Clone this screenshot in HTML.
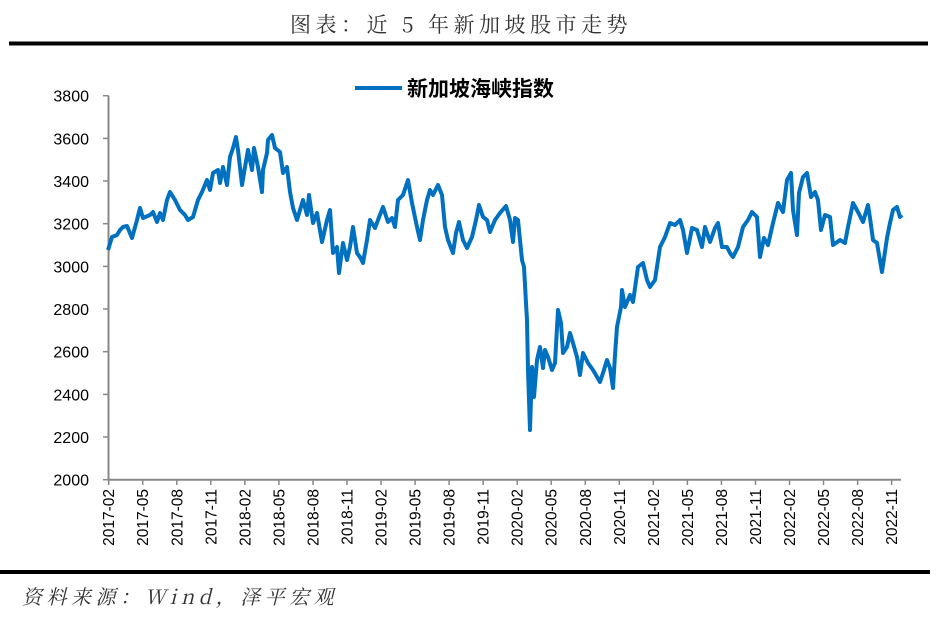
<!DOCTYPE html>
<html><head><meta charset="utf-8"><style>
body{margin:0;background:#fff;width:937px;height:622px;overflow:hidden}
svg{display:block}
</style></head><body>
<svg width="937" height="622" xmlns="http://www.w3.org/2000/svg">
<text x="290" y="32" letter-spacing="4.5" font-family="'Noto Serif CJK SC',serif" font-size="21" fill="#333">图表：近 5 年新加坡股市走势</text>
<rect x="9" y="41.5" width="919" height="4" fill="#000"/>
<rect x="0" y="570" width="930" height="4" fill="#000"/>
<text x="22" y="604" letter-spacing="4.5" font-family="'Noto Serif CJK SC',serif" font-style="italic" font-size="20" fill="#333">资料来源：Wind，泽平宏观</text>
<g stroke="#888" stroke-width="2" fill="none">
<line x1="108.5" y1="95.7" x2="108.5" y2="480"/>
<line x1="107.5" y1="479.7" x2="901" y2="479.7"/>
</g>
<g stroke="#888" stroke-width="1.5">
<line x1="103" y1="479.7" x2="108.5" y2="479.7"/><line x1="103" y1="437" x2="108.5" y2="437"/><line x1="103" y1="394.4" x2="108.5" y2="394.4"/><line x1="103" y1="351.7" x2="108.5" y2="351.7"/><line x1="103" y1="309" x2="108.5" y2="309"/><line x1="103" y1="266.4" x2="108.5" y2="266.4"/><line x1="103" y1="223.7" x2="108.5" y2="223.7"/><line x1="103" y1="181" x2="108.5" y2="181"/><line x1="103" y1="138.4" x2="108.5" y2="138.4"/><line x1="103" y1="95.7" x2="108.5" y2="95.7"/>
</g>
<g font-family="'Liberation Sans',sans-serif" font-size="16" fill="#000" text-anchor="end">
<text x="89" y="485.7">2000</text><text x="89" y="443">2200</text><text x="89" y="400.4">2400</text><text x="89" y="357.7">2600</text><text x="89" y="315">2800</text><text x="89" y="272.4">3000</text><text x="89" y="229.7">3200</text><text x="89" y="187">3400</text><text x="89" y="144.4">3600</text><text x="89" y="101.7">3800</text>
</g>
<g stroke="#888" stroke-width="1.5">
<line x1="108.7" y1="479.7" x2="108.7" y2="485"/><line x1="142.7" y1="479.7" x2="142.7" y2="485"/><line x1="176.8" y1="479.7" x2="176.8" y2="485"/><line x1="210.8" y1="479.7" x2="210.8" y2="485"/><line x1="244.9" y1="479.7" x2="244.9" y2="485"/><line x1="278.9" y1="479.7" x2="278.9" y2="485"/><line x1="313" y1="479.7" x2="313" y2="485"/><line x1="347" y1="479.7" x2="347" y2="485"/><line x1="381" y1="479.7" x2="381" y2="485"/><line x1="415.1" y1="479.7" x2="415.1" y2="485"/><line x1="449.1" y1="479.7" x2="449.1" y2="485"/><line x1="483.1" y1="479.7" x2="483.1" y2="485"/><line x1="517.2" y1="479.7" x2="517.2" y2="485"/><line x1="551.2" y1="479.7" x2="551.2" y2="485"/><line x1="585.3" y1="479.7" x2="585.3" y2="485"/><line x1="619.3" y1="479.7" x2="619.3" y2="485"/><line x1="653.3" y1="479.7" x2="653.3" y2="485"/><line x1="687.4" y1="479.7" x2="687.4" y2="485"/><line x1="721.4" y1="479.7" x2="721.4" y2="485"/><line x1="755.5" y1="479.7" x2="755.5" y2="485"/><line x1="789.5" y1="479.7" x2="789.5" y2="485"/><line x1="823.5" y1="479.7" x2="823.5" y2="485"/><line x1="857.6" y1="479.7" x2="857.6" y2="485"/><line x1="891.6" y1="479.7" x2="891.6" y2="485"/>
</g>
<g font-family="'Liberation Sans',sans-serif" font-size="15.5" fill="#000" text-anchor="end">
<text transform="translate(114.2,489) rotate(-90)">2017-02</text>
<text transform="translate(148.2,489) rotate(-90)">2017-05</text>
<text transform="translate(182.3,489) rotate(-90)">2017-08</text>
<text transform="translate(216.3,489) rotate(-90)">2017-11</text>
<text transform="translate(250.4,489) rotate(-90)">2018-02</text>
<text transform="translate(284.4,489) rotate(-90)">2018-05</text>
<text transform="translate(318.5,489) rotate(-90)">2018-08</text>
<text transform="translate(352.5,489) rotate(-90)">2018-11</text>
<text transform="translate(386.5,489) rotate(-90)">2019-02</text>
<text transform="translate(420.6,489) rotate(-90)">2019-05</text>
<text transform="translate(454.6,489) rotate(-90)">2019-08</text>
<text transform="translate(488.6,489) rotate(-90)">2019-11</text>
<text transform="translate(522.7,489) rotate(-90)">2020-02</text>
<text transform="translate(556.7,489) rotate(-90)">2020-05</text>
<text transform="translate(590.8,489) rotate(-90)">2020-08</text>
<text transform="translate(624.8,489) rotate(-90)">2020-11</text>
<text transform="translate(658.8,489) rotate(-90)">2021-02</text>
<text transform="translate(692.9,489) rotate(-90)">2021-05</text>
<text transform="translate(726.9,489) rotate(-90)">2021-08</text>
<text transform="translate(761,489) rotate(-90)">2021-11</text>
<text transform="translate(795,489) rotate(-90)">2022-02</text>
<text transform="translate(829,489) rotate(-90)">2022-05</text>
<text transform="translate(863.1,489) rotate(-90)">2022-08</text>
<text transform="translate(897.1,489) rotate(-90)">2022-11</text>
</g>
<line x1="355" y1="88" x2="402" y2="88" stroke="#0070C0" stroke-width="4"/>
<text x="407" y="96" font-family="'Liberation Sans','Noto Sans CJK SC',sans-serif" font-weight="bold" font-size="21" fill="#000">新加坡海峡指数</text>
<polyline fill="none" stroke="#0070C0" stroke-width="4" stroke-linejoin="round" points="108,250 112,237 117,235 120,230 123,227 127,226 132,238 137,220 140,208 143,218 150,215 153,212 157,222 160,213 163,220 167,200 170,192 175,200 180,210 185,215 188,220 193,217 198,200 202,192 207,180 210,190 213,173 218,170 220,183 223,167 227,185 230,157 233,148 236,137 238,150 242,185 245,167 248,150 252,170 254,148 258,167 262,192 263,170 267,153 268,140 272,135 275,148 280,152 283,173 287,167 290,192 293,208 297,220 300,210 303,200 307,215 309,195 313,223 317,213 322,242 327,220 330,210 333,253 337,247 339,273 343,243 347,260 350,247 353,227 357,253 360,257 363,263 367,240 370,220 375,228 378,220 383,207 388,222 392,218 395,227 398,200 403,195 408,180 412,203 417,227 420,240 423,220 427,200 430,190 433,195 438,185 442,195 445,227 448,240 453,253 456,233 459,222 463,240 467,248 472,237 476,220 479,205 483,217 487,220 490,232 495,220 500,213 506,206 510,220 513,242 515,218 518,220 522,260 524,267 526,303 527,320 528,370 530,430 532,367 534,397 537,360 540,347 543,368 545,350 548,357 552,370 555,363 558,310 561,323 563,353 567,347 570,333 573,343 577,357 580,375 583,353 588,363 593,370 600,382 603,373 607,360 610,368 613,388 615,355 617,327 621,307 622,290 625,307 630,295 633,302 638,267 643,263 647,280 650,287 655,280 660,247 665,237 670,223 675,225 680,220 683,230 687,253 692,228 697,230 702,247 705,227 710,242 715,228 718,223 722,247 727,247 730,253 733,257 738,247 743,227 748,220 752,212 757,217 760,257 764,238 768,245 773,223 778,203 783,212 787,180 791,173 793,210 797,235 799,193 803,177 807,173 811,197 815,192 818,200 821,230 825,215 830,217 833,245 840,240 845,243 848,227 853,203 858,212 863,222 868,205 870,218 873,240 877,243 882,272 887,238 890,223 893,210 897,207 900,217 902,215"/>
</svg>
</body></html>
